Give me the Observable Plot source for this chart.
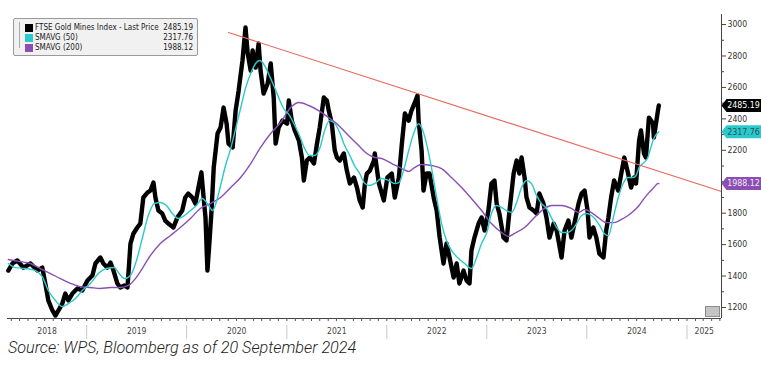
<!DOCTYPE html>
<html>
<head>
<meta charset="utf-8">
<script src="https://cdn.jsdelivr.net/npm/d3@7"></script>
<script src="https://cdn.jsdelivr.net/npm/@observablehq/plot@0.6"></script>
<style>
  html, body { margin: 0; padding: 0; background: #fff; }
  #wrap { position: relative; width: 761px; height: 367px; overflow: hidden; }
  #legend { position: absolute; left: 13px; top: 18px; width: 183px; height: 36px;
    background: #f1f1f1; border: 1px solid #9a9a9a; border-radius: 2px;
    font-family: "DejaVu Sans Condensed", "DejaVu Sans", sans-serif; font-size: 8px; color: #222; }
  .row { position: absolute; left: 0; width: 183px; height: 10px; line-height: 10px; }
  .sw { position: absolute; left: 11px; top: 1px; width: 8px; height: 8px; }
  .lt { position: absolute; left: 21px; top: 0; white-space: nowrap; }
  .lv { position: absolute; right: 4px; top: 0; }
  .tree { position: absolute; left: 5px; top: 3px; width: 4px; height: 26px; border-left: 1px solid #aaa; }
  #caption { position: absolute; left: 8px; top: 338px; font-family: Roboto, "Open Sans", sans-serif;
    font-style: italic; font-weight: 300; font-size: 16.2px; color: #222; white-space: nowrap; }
  #btn { position: absolute; left: 705px; top: 306px; width: 13px; height: 9px; background: #c4c4c4; border: 1px solid #8d8d8d; }
</style>
</head>
<body>
<div id="wrap">
  <div id="chart"></div>
  <div id="legend"></div>
  <div id="btn"></div>
  <div id="caption"></div>
</div>
<script>
// ---------- data ----------
const seriesNames = ["FTSE Gold Mines Index - Last Price", "SMAVG (50)", "SMAVG (200)"];
const lastValues = [2485.19, 2317.76, 1988.12];
const seriesColors = ["#000000", "#2cc9cc", "#8b4fb3"];
const tagTextColors = ["#ffffff", "#1d5560", "#f2e9f8"];
const trendColor = "#e8685f";
const captionText = "Source: WPS, Bloomberg as of 20 September 2024";

const yearLabels = ["2018", "2019", "2020", "2021", "2022", "2023", "2024", "2025"];
const yTicks = [1200, 1400, 1600, 1800, 2000, 2200, 2400, 2600, 2800, 3000];
const yMinorTicks = [1300, 1500, 1700, 1900, 2100, 2300, 2500, 2700, 2900];
const xDomain = ["2018-03-18", "2025-05-07"];
const yDomain = [1130, 3064];

const priceSeries = [
["2018-03-21",1435],["2018-04-05",1480],["2018-04-23",1499],["2018-05-15",1454],["2018-06-10",1480],
["2018-07-05",1435],["2018-07-23",1454],["2018-08-03",1353],["2018-08-14",1245],["2018-08-29",1181],
["2018-09-09",1149],["2018-09-20",1181],["2018-10-04",1225],["2018-10-15",1289],["2018-10-26",1245],
["2018-11-10",1289],["2018-11-28",1321],["2018-12-16",1308],["2019-01-04",1372],["2019-01-22",1404],
["2019-02-02",1480],["2019-02-20",1518],["2019-03-03",1480],["2019-03-18",1454],["2019-03-29",1486],
["2019-04-09",1435],["2019-04-23",1353],["2019-05-04",1327],["2019-05-19",1340],["2019-05-30",1327],
["2019-06-10",1607],["2019-06-21",1671],["2019-07-05",1709],["2019-07-16",1734],["2019-07-27",1900],
["2019-08-11",1931],["2019-08-22",1944],["2019-09-02",1995],["2019-09-09",1900],["2019-09-20",1817],
["2019-10-04",1798],["2019-10-15",1753],["2019-10-26",1734],["2019-11-14",1709],["2019-11-28",1772],
["2019-12-16",1817],["2019-12-27",1900],["2020-01-07",1925],["2020-01-22",1900],["2020-02-02",1861],
["2020-02-13",1963],["2020-02-24",2060],["2020-03-03",1900],["2020-03-10",1772],["2020-03-17",1435],
["2020-03-24",1607],["2020-04-01",1817],["2020-04-09",2090],["2020-04-23",2307],["2020-05-04",2345],
["2020-05-15",2472],["2020-05-26",2370],["2020-06-02",2243],["2020-06-17",2218],["2020-06-28",2453],
["2020-07-09",2580],["2020-07-23",2771],["2020-08-03",2981],["2020-08-11",2816],["2020-08-22",2707],
["2020-08-29",2835],["2020-09-09",2726],["2020-09-20",2879],["2020-09-27",2707],["2020-10-08",2561],
["2020-10-23",2625],["2020-11-03",2752],["2020-11-14",2536],["2020-11-21",2243],["2020-12-02",2345],
["2020-12-16",2389],["2021-01-02",2370],["2021-01-08",2517],["2021-01-19",2389],["2021-01-30",2326],
["2021-02-14",2262],["2021-02-25",2154],["2021-03-04",2008],["2021-03-15",2135],["2021-03-26",2154],
["2021-04-10",2116],["2021-04-21",2243],["2021-05-01",2345],["2021-05-16",2536],["2021-05-27",2517],
["2021-06-03",2453],["2021-06-14",2370],["2021-06-25",2199],["2021-07-03",2154],["2021-07-13",2135],
["2021-07-28",2180],["2021-08-08",2071],["2021-08-19",1989],["2021-09-03",2027],["2021-09-14",1963],
["2021-09-24",1881],["2021-10-05",1836],["2021-10-13",1989],["2021-10-20",2052],["2021-10-31",2071],
["2021-11-15",2135],["2021-11-18",2180],["2021-12-03",1989],["2021-12-21",1881],["2022-01-03",2027],
["2022-01-19",2052],["2022-01-30",1900],["2022-02-14",2027],["2022-02-25",2243],["2022-03-08",2434],
["2022-03-22",2389],["2022-04-01",2453],["2022-04-12",2498],["2022-04-23",2548],["2022-04-27",2389],
["2022-05-08",2199],["2022-05-15",1944],["2022-05-26",2052],["2022-06-06",2052],["2022-06-21",1900],
["2022-07-02",1817],["2022-07-13",1645],["2022-07-27",1480],["2022-08-07",1607],["2022-08-18",1518],
["2022-09-02",1391],["2022-09-13",1480],["2022-09-23",1353],["2022-10-08",1435],["2022-10-19",1372],
["2022-10-30",1353],["2022-11-06",1563],["2022-11-17",1645],["2022-12-02",1734],["2022-12-13",1772],
["2022-12-24",1690],["2023-01-07",1817],["2023-01-18",1989],["2023-01-29",2008],["2023-02-06",1861],
["2023-02-16",1798],["2023-03-03",1645],["2023-03-14",1626],["2023-03-25",1817],["2023-04-09",2052],
["2023-04-20",2135],["2023-04-30",2052],["2023-05-08",2154],["2023-05-19",2027],["2023-05-26",1900],
["2023-06-06",1836],["2023-06-21",1817],["2023-07-02",1798],["2023-07-12",1925],["2023-07-27",1861],
["2023-08-07",1772],["2023-08-18",1645],["2023-09-02",1734],["2023-09-13",1690],["2023-10-01",1518],
["2023-10-12",1690],["2023-10-26",1753],["2023-11-06",1645],["2023-11-17",1734],["2023-12-02",1861],
["2023-12-13",1925],["2023-12-24",1944],["2024-01-04",1817],["2024-01-11",1645],["2024-01-25",1709],
["2024-02-05",1645],["2024-02-16",1543],["2024-03-02",1518],["2024-03-12",1690],["2024-03-20",1772],
["2024-03-30",1900],["2024-04-10",2008],["2024-04-25",1944],["2024-05-06",2052],["2024-05-17",2154],
["2024-05-31",2052],["2024-06-11",1963],["2024-06-22",2027],["2024-06-29",1989],["2024-07-10",2262],
["2024-07-17",2326],["2024-07-28",2180],["2024-08-04",2154],["2024-08-15",2408],["2024-08-30",2370],
["2024-09-02",2281],["2024-09-17",2453],["2024-09-20",2485.19]
];

const sma50Series = [
["2018-03-21",1480],["2018-04-16",1454],["2018-05-22",1448],["2018-06-28",1435],["2018-07-23",1397],
["2018-08-14",1308],["2018-09-09",1245],["2018-10-04",1206],["2018-10-26",1225],["2018-11-21",1257],
["2018-12-16",1308],["2019-01-15",1353],["2019-02-13",1416],["2019-03-14",1448],["2019-04-12",1454],
["2019-04-27",1423],["2019-05-19",1384],["2019-06-10",1404],["2019-07-02",1499],["2019-07-23",1639],
["2019-08-14",1785],["2019-09-05",1861],["2019-09-27",1868],["2019-10-19",1849],["2019-11-10",1798],
["2019-12-02",1766],["2019-12-24",1785],["2020-01-15",1817],["2020-02-06",1849],["2020-02-27",1893],
["2020-03-17",1861],["2020-04-05",1817],["2020-04-20",1881],["2020-05-04",1976],["2020-05-22",2103],
["2020-06-10",2211],["2020-06-28",2338],["2020-07-16",2466],["2020-08-03",2594],["2020-08-22",2688],
["2020-09-09",2752],["2020-09-23",2771],["2020-10-12",2739],["2020-10-26",2688],["2020-11-14",2612],
["2020-12-02",2536],["2020-12-20",2466],["2021-01-11",2421],["2021-01-30",2358],["2021-02-16",2294],
["2021-03-07",2211],["2021-03-26",2167],["2021-04-12",2167],["2021-05-01",2211],["2021-05-19",2326],
["2021-06-06",2389],["2021-06-25",2370],["2021-07-13",2313],["2021-07-31",2230],["2021-08-19",2167],
["2021-09-05",2103],["2021-09-24",2052],["2021-10-13",1989],["2021-10-31",1976],["2021-11-18",1989],
["2021-12-13",2021],["2022-01-07",2008],["2022-01-30",1989],["2022-02-14",1995],["2022-03-03",2071],
["2022-03-22",2199],["2022-04-09",2307],["2022-04-27",2370],["2022-05-08",2345],["2022-05-26",2243],
["2022-06-13",2090],["2022-07-02",1900],["2022-07-20",1734],["2022-08-07",1626],["2022-08-25",1563],
["2022-09-20",1512],["2022-10-12",1480],["2022-11-06",1448],["2022-11-25",1518],["2022-12-13",1607],
["2023-01-01",1677],["2023-01-18",1798],["2023-02-06",1849],["2023-02-24",1836],["2023-03-14",1817],
["2023-04-01",1804],["2023-04-20",1868],["2023-05-08",1963],["2023-05-26",2008],["2023-06-13",1989],
["2023-07-02",1912],["2023-07-20",1861],["2023-08-07",1830],["2023-08-25",1772],["2023-09-13",1709],
["2023-10-01",1677],["2023-10-19",1677],["2023-11-06",1690],["2023-11-25",1734],["2023-12-13",1785],
["2024-01-01",1798],["2024-01-18",1785],["2024-02-05",1753],["2024-02-23",1703],["2024-03-05",1671],
["2024-03-20",1658],["2024-04-07",1772],["2024-04-25",1900],["2024-05-13",1989],["2024-05-31",2027],
["2024-06-18",2027],["2024-06-29",2040],["2024-07-10",2090],["2024-07-28",2122],["2024-08-11",2154],
["2024-08-22",2218],["2024-09-02",2275],["2024-09-17",2313],["2024-09-20",2317.76]
];

const sma200Series = [
["2018-03-21",1505],["2018-05-04",1492],["2018-06-10",1480],["2018-07-16",1448],["2018-08-22",1416],
["2018-09-27",1384],["2018-11-03",1353],["2018-12-09",1333],["2019-01-15",1327],["2019-02-20",1321],
["2019-03-29",1327],["2019-05-04",1327],["2019-06-02",1340],["2019-06-28",1384],["2019-07-23",1448],
["2019-08-22",1531],["2019-09-27",1607],["2019-11-03",1658],["2019-12-09",1709],["2020-01-15",1766],
["2020-02-20",1830],["2020-03-28",1861],["2020-05-04",1900],["2020-06-10",1963],["2020-07-16",2027],
["2020-08-22",2116],["2020-09-27",2218],["2020-11-03",2307],["2020-12-09",2377],["2021-01-18",2478],
["2021-02-14",2504],["2021-03-22",2485],["2021-04-27",2453],["2021-06-03",2408],["2021-07-09",2358],
["2021-08-14",2294],["2021-09-20",2230],["2021-10-20",2180],["2021-11-18",2154],["2021-12-13",2148],
["2022-01-19",2116],["2022-02-25",2084],["2022-03-22",2065],["2022-04-12",2090],["2022-05-08",2110],
["2022-06-13",2103],["2022-07-20",2084],["2022-08-25",2027],["2022-10-01",1963],["2022-11-06",1893],
["2022-12-13",1817],["2023-01-18",1734],["2023-02-24",1677],["2023-03-21",1652],["2023-04-12",1671],
["2023-05-19",1709],["2023-06-24",1772],["2023-07-31",1830],["2023-08-25",1849],["2023-10-01",1849],
["2023-11-06",1830],["2023-12-02",1804],["2023-12-24",1823],["2024-01-18",1804],["2024-02-16",1766],
["2024-03-12",1740],["2024-04-10",1740],["2024-05-06",1760],["2024-05-31",1785],["2024-06-22",1817],
["2024-07-10",1849],["2024-07-28",1893],["2024-08-15",1931],["2024-09-02",1963],["2024-09-17",1989],
["2024-09-20",1988.12]
];

const trendSeries = [["2020-06-02", 2949], ["2025-05-07", 1938]];

// ---------- build ----------
const P = s => s.map(([d, v]) => ({date: new Date(d), value: v}));
const xd = xDomain.map(d => new Date(d));
const yearStarts = yearLabels.map(y => new Date(`${y}-01-01`));
const boundaries = yearStarts.filter(d => d > xd[0] && d < xd[1]);
const yearMid = yearLabels.map((y, i) => {
  const a = new Date(Math.max(+yearStarts[i], +xd[0]));
  const b = new Date(Math.min(+new Date(`${+y + 1}-01-01`), +xd[1]));
  return {label: y, date: new Date((+a + +b) / 2)};
});
const months = d3.utcMonth.range(d3.utcMonth.ceil(xd[0]), xd[1]);
const tags = lastValues.map((v, i) => ({value: v, fill: seriesColors[i], text: tagTextColors[i]}));
// tick labels that sit under a value tag are hidden, as in the reference
const coveredByTag = t => lastValues.some(v => Math.abs(v - t) < 45);
const tagSymbol = { draw(ctx) {
  ctx.moveTo(0, 0); ctx.lineTo(5, -6.5); ctx.lineTo(40, -6.5); ctx.lineTo(40, 6.5); ctx.lineTo(5, 6.5); ctx.closePath();
}};
const font = '"DejaVu Sans Condensed", "DejaVu Sans", sans-serif';

const chart = Plot.plot({
  width: 761, height: 342,
  marginLeft: 7, marginRight: 40, marginTop: 14, marginBottom: 24,
  x: {type: "utc", domain: xd},
  y: {domain: yDomain},
  style: {fontFamily: font, fontSize: "8.6px", background: "white", overflow: "visible"},
  marks: [
    Plot.lineY(P(priceSeries), {x: "date", y: "value", stroke: seriesColors[0], strokeWidth: 4.4, strokeLinejoin: "round"}),
    Plot.lineY(P(sma200Series), {x: "date", y: "value", stroke: seriesColors[2], strokeWidth: 1.4, curve: "monotone-x"}),
    Plot.lineY(P(sma50Series), {x: "date", y: "value", stroke: seriesColors[1], strokeWidth: 1.4, curve: "monotone-x"}),
    Plot.lineY(P(trendSeries), {x: "date", y: "value", stroke: trendColor, strokeWidth: 1.1}),
    Plot.ruleY([yDomain[0]], {stroke: "#444"}),
    Plot.ruleX([xd[1]], {stroke: "#444"}),
    Plot.axisX({ticks: months, tickSize: 3, tickFormat: () => "", stroke: "#555", label: null}),
    Plot.axisX({ticks: boundaries, tickSize: 14, dy: 7, tickFormat: () => "", stroke: "#c8c8c8", label: null}),
    Plot.text(yearMid, {x: "date", text: "label", frameAnchor: "bottom", dy: 15, fill: "#444", fontSize: 8.5}),
    Plot.axisY({anchor: "right", ticks: yMinorTicks, tickSize: 2, tickFormat: () => "", stroke: "#444", label: null}),
    Plot.axisY({anchor: "right", ticks: yTicks, tickSize: 4, tickPadding: 2,
      tickFormat: d => coveredByTag(d) ? "" : String(d), stroke: "#444", fill: "#333", label: null}),
    Plot.dot(tags, {y: "value", frameAnchor: "right", symbol: tagSymbol, fill: "fill", stroke: null, r: 5}),
    Plot.text(tags, {y: "value", frameAnchor: "right", text: d => d.value.toFixed(2), fill: "text", dx: 22, textAnchor: "middle", fontSize: 8.8})
  ]
});
document.getElementById("chart").appendChild(chart);

// legend
const lg = document.getElementById("legend");
lg.innerHTML = `<div class="tree"></div>` + seriesNames.map((n, i) =>
  `<div class="row" style="top:${4 + i * 10}px"><div class="sw" style="background:${seriesColors[i]}"></div>` +
  `<div class="lt">${n}</div><div class="lv">${lastValues[i].toFixed(2)}</div></div>`).join("");
document.getElementById("caption").textContent = captionText;
</script>
</body>
</html>
